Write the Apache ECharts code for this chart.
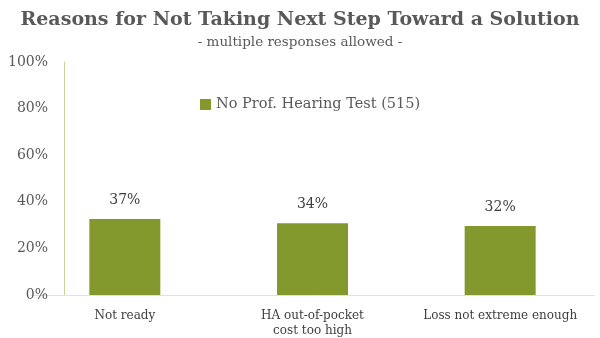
<!DOCTYPE html>
<html>
<head>
<meta charset="utf-8">
<script src="https://cdn.jsdelivr.net/npm/echarts@6/dist/echarts.min.js"></script>
<style>
    html, body { margin: 0; padding: 0; background: #fff; }
    #chart1 { width: 600px; height: 338px; }
</style>
</head>
<body>
<div id="chart1"></div>
<script>
// data
var categories = ["Not ready", "HA out-of-pocket\ncost too high", "Loss not extreme enough"];
var barHeights = [32.6, 30.8, 29.6];   // bar tops as drawn
var labelValues = [37, 34, 32];        // printed labels
var yTicks = [0, 20, 40, 60, 80, 100];
var seriesName = "No Prof. Hearing Test (515)";

var serif = "'DejaVu Serif', 'Liberation Serif', serif";

(function () {
    var mychart = echarts.init(document.getElementById("chart1"));
    var _data = barHeights.map(function (v, i) {
        return { value: v, label: { formatter: labelValues[i] + "%" } };
    });
    var option = {
        animation: false,
        color: ["#84992d"],
        title: {
            text: "Reasons for Not Taking Next Step Toward a Solution",
            subtext: "- multiple responses allowed -",
            left: "center",
            top: 6,
            itemGap: 5,
            textStyle: { color: "#595959", fontFamily: serif, fontWeight: "bold", fontSize: 19 },
            subtextStyle: { color: "#595959", fontFamily: serif, fontSize: 13.5 }
        },
        legend: {
            data: [seriesName],
            left: 195,
            top: 92,
            icon: "rect",
            itemWidth: 11,
            itemHeight: 11,
            itemGap: 8,
            textStyle: { color: "#595959", fontFamily: serif, fontSize: 14.5 }
        },
        grid: { left: 31, right: 6, top: 62, bottom: 43 },
        xAxis: {
            type: "category",
            data: categories,
            offset: 7,
            axisLine: { lineStyle: { color: "#e0e0e0" } },
            axisTick: { show: false },
            axisLabel: { interval: 0, color: "#404040", fontFamily: serif, fontSize: 12, margin: 6, lineHeight: 15 }
        },
        yAxis: {
            type: "value",
            min: yTicks[0],
            max: yTicks[yTicks.length - 1],
            interval: 20,
            offset: -33,
            axisLine: { show: true, lineStyle: { color: "#c5d69b" } },
            axisTick: { show: false },
            splitLine: { show: false },
            axisLabel: { color: "#595959", fontFamily: serif, fontSize: 14, margin: 16, formatter: "{value}%" }
        },
        series: [
            {
                name: seriesName,
                type: "bar",
                barWidth: 71,
                data: _data,
                label: {
                    show: true,
                    position: "top",
                    distance: 12,
                    color: "#404040",
                    fontFamily: serif,
                    fontSize: 14
                }
            }
        ]
    };
    mychart.setOption(option);
})();
</script>
</body>
</html>
